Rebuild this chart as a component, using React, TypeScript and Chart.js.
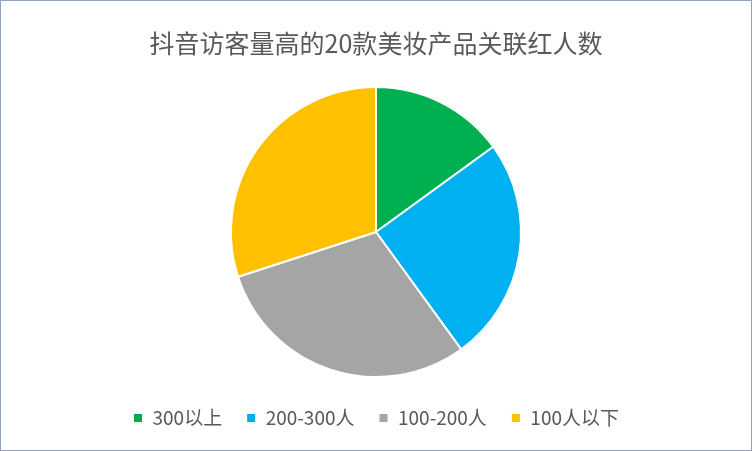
import { useEffect, useRef } from "react"
import { Chart, registerables } from "chart.js"

Chart.register(...registerables)

const title = "抖音访客量高的20款美妆产品关联红人数"
const categories = ["300以上", "200-300人", "100-200人", "100人以下"]
const shares = [15, 25, 30, 30]
const colors = ["#00B050", "#00B0F0", "#A5A5A5", "#FFC000"]

const FONT = '"Noto Sans CJK SC", "Noto Sans", sans-serif'

export default function App() {
  const chartRef = useRef<HTMLCanvasElement>(null)
  const chartInstance = useRef<Chart | null>(null)

  useEffect(() => {
    if (!chartRef.current) return
    if (chartInstance.current) chartInstance.current.destroy()

    chartInstance.current = new Chart(chartRef.current, {
      type: "pie",
      data: {
        labels: categories,
        datasets: [
          {
            data: shares,
            backgroundColor: colors,
            borderColor: "#FFFFFF",
            borderWidth: 2,
          },
        ],
      },
      options: {
        animation: false,
        responsive: true,
        maintainAspectRatio: false,
        radius: 145,
        layout: { padding: { bottom: 12.5 } },
        plugins: {
          title: {
            display: true,
            text: title,
            color: "#595959",
            font: { family: FONT, size: 25, weight: "normal" },
            padding: { top: 27, bottom: 21.5 },
          },
          legend: {
            position: "bottom",
            labels: {
              color: "#595959",
              font: { family: FONT, size: 19 },
              boxWidth: 10,
              boxHeight: 10,
              padding: 24,
            },
          },
          tooltip: { enabled: false },
        },
      },
    })

    return () => {
      if (chartInstance.current) {
        chartInstance.current.destroy()
        chartInstance.current = null
      }
    }
  }, [])

  return (
    <div
      style={{
        position: "fixed",
        left: 0,
        top: 0,
        width: 752,
        height: 451,
        boxSizing: "border-box",
        border: "1px solid #8EA4C0",
        background: "#FFFFFF",
      }}
    >
      <canvas ref={chartRef}></canvas>
    </div>
  )
}
